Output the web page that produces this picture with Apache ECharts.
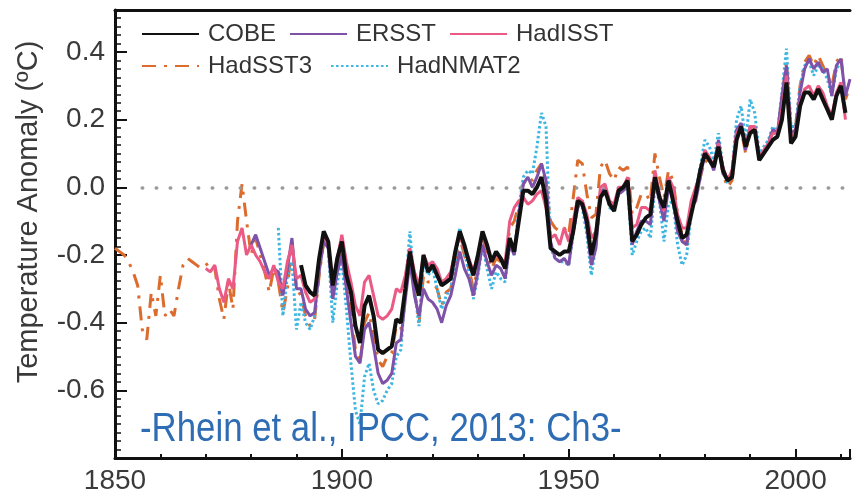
<!DOCTYPE html>
<html lang="en">
<head>
<meta charset="UTF-8">
<title>SST anomaly</title>
<script src="https://cdn.jsdelivr.net/npm/echarts@6/dist/echarts.min.js"></script>
<style>
  html, body { margin: 0; padding: 0; background: #fff; }
  #main { width: 853px; height: 495px; }
</style>
</head>
<body>
<div id="main"></div>
<script>
// first year of each record, then one value per year (degC)
const cobeStart = 1891;
const cobe = [
  -0.23, -0.29, -0.31, -0.32, -0.21, -0.13, -0.16, -0.29, -0.21, -0.16,
  -0.26, -0.31, -0.41, -0.46, -0.35, -0.32, -0.38, -0.48, -0.49, -0.48,
  -0.47, -0.39, -0.40, -0.30, -0.19, -0.27, -0.32, -0.20, -0.25, -0.23,
  -0.26, -0.29, -0.28, -0.27, -0.19, -0.13, -0.17, -0.22, -0.26, -0.20,
  -0.13, -0.17, -0.22, -0.19, -0.21, -0.24, -0.15, -0.19, -0.10, -0.01,
  -0.01, -0.02, 0.00, 0.03, -0.04, -0.18, -0.19, -0.20, -0.19, -0.19,
  -0.13, -0.04, -0.05, -0.10, -0.20, -0.14, -0.03, -0.01, -0.05, -0.07,
  -0.01, 0.00, 0.02, -0.16, -0.14, -0.11, -0.09, -0.08, 0.03, -0.03,
  -0.06, 0.02, -0.04, -0.10, -0.15, -0.14, -0.08, -0.02, 0.05, 0.10,
  0.08, 0.06, 0.12, 0.05, 0.02, 0.03, 0.14, 0.18, 0.12, 0.16,
  0.17, 0.08, 0.10, 0.12, 0.14, 0.15, 0.20, 0.31, 0.13, 0.15,
  0.24, 0.28, 0.28, 0.26, 0.29, 0.26, 0.23, 0.20, 0.27, 0.30,
  0.22
];

const ersstStart = 1880;
const ersst = [
  -0.17, -0.14, -0.18, -0.22, -0.26, -0.24, -0.25, -0.32, -0.24, -0.15, -0.30,
  -0.30, -0.36, -0.38, -0.37, -0.25, -0.16, -0.18, -0.33, -0.25, -0.20,
  -0.30, -0.40, -0.50, -0.52, -0.42, -0.40, -0.47, -0.55, -0.58, -0.57,
  -0.55, -0.46, -0.45, -0.33, -0.22, -0.32, -0.38, -0.30, -0.33, -0.34,
  -0.36, -0.40, -0.35, -0.32, -0.26, -0.19, -0.24, -0.27, -0.32, -0.25,
  -0.17, -0.22, -0.26, -0.23, -0.24, -0.27, -0.17, -0.20, -0.08, 0.01,
  0.03, 0.00, 0.03, 0.07, 0.02, -0.16, -0.21, -0.22, -0.21, -0.23,
  -0.13, -0.06, -0.04, -0.12, -0.23, -0.18, -0.02, 0.00, -0.05, -0.06,
  -0.02, -0.01, 0.01, -0.17, -0.13, -0.10, -0.10, -0.11, 0.02, -0.04,
  -0.10, 0.00, -0.03, -0.13, -0.16, -0.17, -0.05, -0.04, 0.03, 0.10,
  0.08, 0.05, 0.14, 0.04, 0.02, 0.04, 0.17, 0.19, 0.11, 0.18,
  0.18, 0.09, 0.10, 0.13, 0.17, 0.16, 0.27, 0.36, 0.16, 0.17,
  0.28, 0.35, 0.38, 0.35, 0.37, 0.34, 0.35, 0.27, 0.36, 0.38,
  0.27, 0.32
];

const hadisstStart = 1870;
const hadisst = [
  -0.24, -0.25, -0.23, -0.30, -0.34, -0.27, -0.30, -0.16, -0.12, -0.20, -0.17,
  -0.20, -0.22, -0.25, -0.27, -0.23, -0.28, -0.30, -0.22, -0.17, -0.27,
  -0.26, -0.31, -0.34, -0.33, -0.22, -0.14, -0.17, -0.28, -0.21, -0.14,
  -0.22, -0.28, -0.35, -0.38, -0.28, -0.26, -0.32, -0.38, -0.39, -0.38,
  -0.36, -0.30, -0.31, -0.26, -0.18, -0.25, -0.29, -0.20, -0.23, -0.22,
  -0.24, -0.28, -0.27, -0.25, -0.19, -0.14, -0.18, -0.21, -0.25, -0.20,
  -0.14, -0.18, -0.22, -0.20, -0.21, -0.22, -0.10, -0.06, -0.04, -0.03,
  -0.05, -0.04, -0.02, -0.01, -0.06, -0.15, -0.14, -0.17, -0.12, -0.16,
  -0.10, -0.03, -0.04, -0.08, -0.15, -0.13, 0.00, 0.01, -0.04, -0.05,
  0.00, 0.00, 0.03, -0.12, -0.11, -0.06, -0.06, -0.07, 0.05, -0.02,
  -0.07, 0.03, 0.00, -0.08, -0.12, -0.12, -0.04, 0.00, 0.04, 0.11,
  0.09, 0.06, 0.13, 0.06, 0.02, 0.05, 0.16, 0.18, 0.12, 0.18,
  0.18, 0.09, 0.11, 0.13, 0.16, 0.16, 0.23, 0.33, 0.15, 0.16,
  0.25, 0.29, 0.30, 0.27, 0.30, 0.28, 0.24, 0.21, 0.28, 0.31,
  0.20
];

const hadsst3Start = 1850;
const hadsst3 = [
  -0.18, -0.19, -0.20, -0.22, -0.25, -0.29, -0.42, -0.45, -0.31, -0.38, -0.26,
  -0.38, -0.36, -0.38, -0.30, -0.23, -0.21, -0.22, -0.23, -0.24, -0.23,
  -0.22, -0.24, -0.33, -0.39, -0.28, -0.36, -0.10, 0.01, -0.10, -0.20,
  -0.15, -0.20, -0.25, -0.31, -0.24, -0.28, -0.37, -0.30, -0.16, -0.30,
  -0.32, -0.38, -0.41, -0.39, -0.26, -0.16, -0.17, -0.32, -0.24, -0.19,
  -0.29, -0.37, -0.48, -0.52, -0.40, -0.37, -0.44, -0.51, -0.53, -0.50,
  -0.49, -0.41, -0.42, -0.30, -0.20, -0.30, -0.40, -0.26, -0.28, -0.28,
  -0.30, -0.35, -0.31, -0.30, -0.23, -0.15, -0.20, -0.24, -0.30, -0.23,
  -0.15, -0.19, -0.24, -0.21, -0.22, -0.24, -0.12, -0.10, -0.05, 0.01,
  0.03, 0.02, 0.05, 0.07, 0.01, -0.10, -0.12, -0.13, -0.12, -0.14,
  -0.03, 0.08, 0.07, -0.02, -0.09, -0.08, 0.06, 0.08, 0.04, 0.02,
  0.06, 0.05, 0.06, -0.08, -0.06, -0.02, -0.02, -0.04, 0.10, 0.03,
  -0.03, 0.05, 0.02, -0.08, -0.14, -0.18, -0.06, -0.04, 0.03, 0.08,
  0.07, 0.06, 0.12, 0.04, 0.00, 0.02, 0.14, 0.17, 0.10, 0.17,
  0.17, 0.08, 0.10, 0.13, 0.17, 0.15, 0.27, 0.37, 0.17, 0.18,
  0.30, 0.37, 0.39, 0.36, 0.39, 0.36, 0.33, 0.30, 0.37, 0.39,
  0.26, 0.30
];

const hadnmat2Start = 1886;
const hadnmat2 = [
  -0.12, -0.38, -0.26, -0.22, -0.42,
  -0.34, -0.40, -0.42, -0.38, -0.24, -0.14, -0.18, -0.40, -0.28, -0.22,
  -0.36, -0.52, -0.66, -0.70, -0.56, -0.52, -0.60, -0.64, -0.63, -0.60,
  -0.58, -0.50, -0.48, -0.30, -0.13, -0.30, -0.41, -0.22, -0.26, -0.24,
  -0.30, -0.36, -0.32, -0.30, -0.22, -0.12, -0.19, -0.25, -0.33, -0.26,
  -0.17, -0.24, -0.30, -0.25, -0.27, -0.28, -0.16, -0.20, -0.06, 0.03,
  0.05, 0.04, 0.12, 0.22, 0.18, -0.18, -0.21, -0.22, -0.22, -0.23,
  -0.14, -0.05, -0.06, -0.14, -0.26, -0.17, -0.02, 0.00, -0.06, -0.07,
  -0.02, -0.01, 0.00, -0.20, -0.16, -0.13, -0.12, -0.15, 0.00, -0.04,
  -0.16, -0.05, -0.04, -0.17, -0.23, -0.20, -0.08, -0.01, 0.06, 0.14,
  0.12, 0.08, 0.16, 0.06, 0.01, 0.05, 0.20, 0.24, 0.14, 0.26,
  0.22, 0.10, 0.12, 0.14, 0.18, 0.16, 0.28, 0.41, 0.18, 0.18,
  0.30, 0.36, 0.37, 0.33, 0.36, 0.35, 0.32, 0.27, 0.35, 0.37
];

const xLabelYears = [1850, 1900, 1950, 2000];
const yLabelValues = [-0.6, -0.4, -0.2, 0.0, 0.2, 0.4];

function toPoints(start, values) {
  return values.map((v, i) => [start + i, v]);
}

const FONT = '"Liberation Sans", Arial, sans-serif';
const XMIN = 1850, XMAX = 2012;

const chart = echarts.init(document.getElementById('main'));

function lineSeries(name, start, values, color, width, type, z) {
  return {
    name: name,
    type: 'line',
    data: toPoints(start, values),
    symbol: 'none',
    z: z,
    lineStyle: { color: color, width: width, type: type },
    itemStyle: { color: color },
    silent: true
  };
}

const sst3 = lineSeries('HadSST3', hadsst3Start, hadsst3, '#dc6b2e', 3, [14, 8, 3, 8], 2);
// dotted zero reference line
sst3.markLine = {
  silent: true,
  symbol: 'none',
  label: { show: false },
  lineStyle: { color: '#9a9a9a', width: 3.5, type: [0.5, 13.5], cap: 'round' },
  data: [[{ coord: [1856, 0] }, { coord: [XMAX, 0] }]]
};

const legendBase = {
  itemWidth: 57, itemHeight: 14,
  itemStyle: { opacity: 0 },
  textStyle: { fontSize: 24, color: '#333', fontFamily: FONT, padding: [0, 0, 0, 4] }
};

const option = {
  animation: false,
  backgroundColor: '#fff',
  grid: { left: 115, right: 0, top: 10, bottom: 37 },
  legend: [
    Object.assign({}, legendBase, { data: ['COBE', 'ERSST', 'HadISST'], left: 136, top: 17, itemGap: 13 }),
    Object.assign({}, legendBase, { data: ['HadSST3', 'HadNMAT2'], left: 136, top: 49, itemGap: 18 })
  ],
  xAxis: [
    {
      type: 'value', min: XMIN, max: XMAX, interval: 10, position: 'bottom',
      axisLine: { show: true, onZero: false, lineStyle: { color: '#111', width: 3 } },
      axisTick: { show: true, inside: true, length: 4, lineStyle: { color: '#111', width: 2 } },
      axisLabel: {
        margin: 9, fontSize: 28, color: '#3a3a3a', fontFamily: FONT,
        formatter: v => (xLabelYears.indexOf(v) >= 0 ? String(v) : '')
      },
      splitLine: { show: false }
    },
    {
      type: 'value', min: XMIN, max: XMAX, interval: 50, position: 'bottom',
      axisLine: { show: false, onZero: false },
      axisTick: { show: true, inside: true, length: 9, lineStyle: { color: '#111', width: 2 } },
      axisLabel: { show: false },
      splitLine: { show: false }
    },
    {
      type: 'value', min: XMIN, max: XMAX, position: 'top',
      axisLine: { show: true, onZero: false, lineStyle: { color: '#111', width: 3 } },
      axisTick: { show: false },
      axisLabel: { show: false },
      splitLine: { show: false }
    }
  ],
  yAxis: {
    type: 'value', min: -0.8, max: 0.524, interval: 0.2,
    name: 'Temperature Anomaly (ºC)',
    nameLocation: 'middle', nameGap: 72, nameRotate: 90,
    nameTextStyle: { fontSize: 29, color: '#3a3a3a', fontFamily: FONT, padding: [0, 0, 0, 44] },
    axisLine: { show: true, onZero: false, lineStyle: { color: '#111', width: 3 } },
    axisTick: { show: true, inside: true, length: 12, lineStyle: { color: '#111', width: 2 } },
    minorTick: { show: true, splitNumber: 8, length: 6, lineStyle: { color: '#111', width: 1.5 } },
    axisLabel: {
      margin: 10, fontSize: 28, color: '#3a3a3a', fontFamily: FONT,
      formatter: v => {
        const hit = yLabelValues.find(t => Math.abs(t - v) < 1e-6);
        return hit === undefined ? '' : hit.toFixed(1);
      }
    },
    splitLine: { show: false }
  },
  series: [
    sst3,
    lineSeries('HadNMAT2', hadnmat2Start, hadnmat2, '#3db6e2', 3, [2.5, 2.5], 3),
    lineSeries('ERSST', ersstStart, ersst, '#7e52a8', 3, 'solid', 4),
    lineSeries('HadISST', hadisstStart, hadisst, '#ea5a85', 3, 'solid', 5),
    lineSeries('COBE', cobeStart, cobe, '#111111', 4, 'solid', 6)
  ],
  graphic: [
    {
      type: 'text', left: 140, top: 410, z: 10, scaleX: 0.87,
      style: {
        text: '-Rhein et al., IPCC, 2013: Ch3-',
        font: '40px "Liberation Sans", Arial, sans-serif',
        fill: '#2e6db4'
      }
    }
  ]
};

chart.setOption(option);
</script>
</body>
</html>
